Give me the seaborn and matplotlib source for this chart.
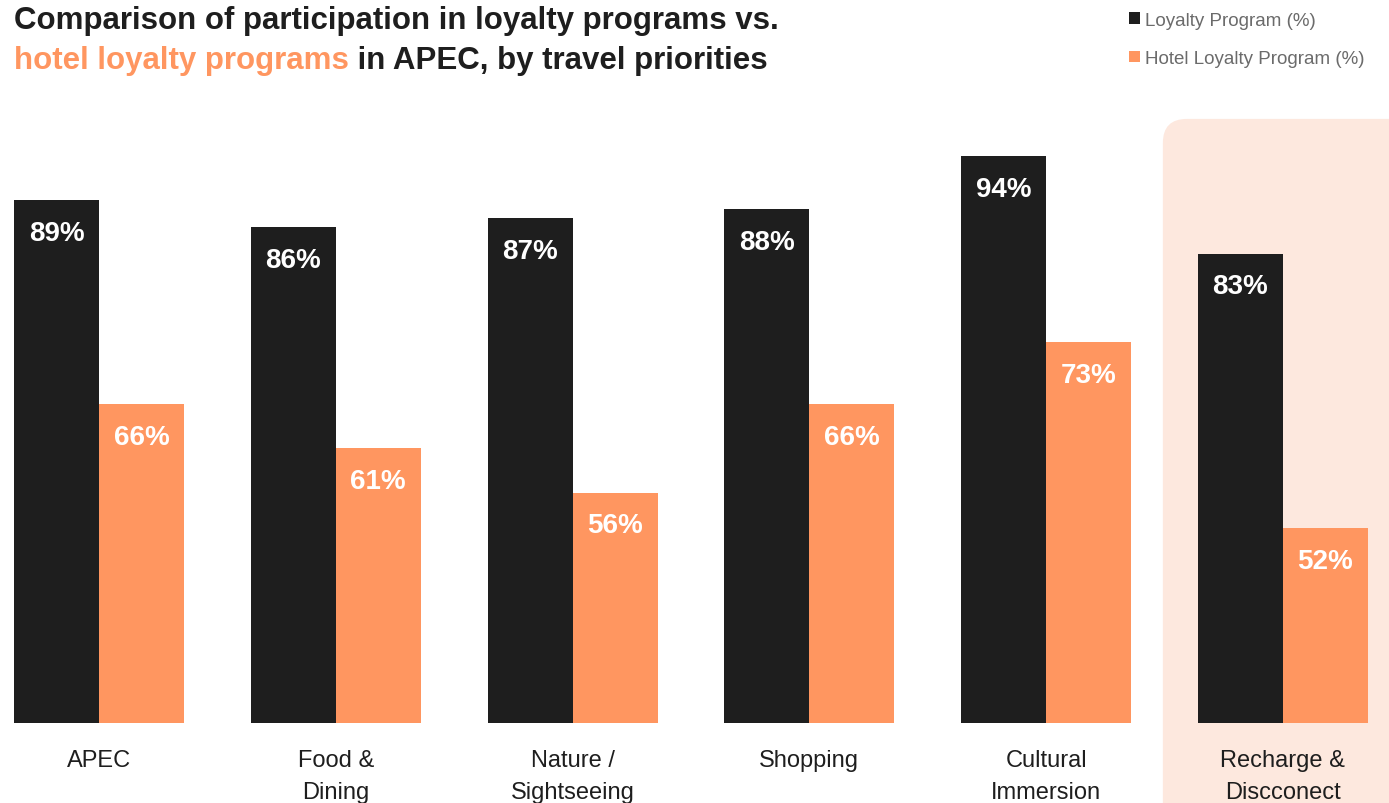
import matplotlib
matplotlib.use("Agg")
import matplotlib.pyplot as plt
from matplotlib.patches import FancyBboxPatch, Patch
from matplotlib.transforms import IdentityTransform
import seaborn as sns
import pandas as pd

# ---- data ----
categories = ["APEC", "Food &\nDining", "Nature /\nSightseeing", "Shopping",
              "Cultural\nImmersion", "Recharge &\nDiscconect"]
loyalty_program = [89, 86, 87, 88, 94, 83]
hotel_loyalty_program = [66, 61, 56, 66, 73, 52]
series_names = ["Loyalty Program (%)", "Hotel Loyalty Program (%)"]
highlight_category = "Recharge &\nDiscconect"

# ---- style ----
BLACK = "#1e1e1e"
ORANGE = "#ff9660"
HIGHLIGHT = "#fde8de"
GREY = "#6b6b6b"
SANS = ["Liberation Sans", "DejaVu Sans"]

sns.set_theme(style="white")
plt.rcParams["font.family"] = SANS

df = pd.DataFrame({
    "category": categories * 2,
    "value": loyalty_program + hotel_loyalty_program,
    "series": [series_names[0]] * len(categories) + [series_names[1]] * len(categories),
})

fig = plt.figure(figsize=(13.89, 8.04), dpi=100)
fig.patch.set_facecolor("white")
ax = fig.add_axes([0, 0.0995, 1, 0.7712])
ax.patch.set_alpha(0)

sns.barplot(data=df, x="category", y="value", hue="series", order=categories,
            hue_order=series_names, palette=[BLACK, ORANGE], width=0.718,
            saturation=1, legend=False, ax=ax, zorder=2, linewidth=0,
            edgecolor="none")

ax.set_xlim(-0.418, 5.448)
ax.set_ylim(30, 100)
ax.autoscale(False)
for s in ax.spines.values():
    s.set_visible(False)
ax.set_yticks([])
ax.set_xlabel("")
ax.set_ylabel("")
ax.tick_params(axis="x", length=0, pad=19)
ax.set_xticks(range(len(categories)))
ax.set_xticklabels(categories, fontsize=17, color=BLACK)
for lab in ax.get_xticklabels():
    lab.set_linespacing(1.55)

# value labels inside the top of each bar
for container, values in zip(ax.containers, [loyalty_program, hotel_loyalty_program]):
    for bar, v in zip(container, values):
        ax.annotate(f"{v}%", xy=(bar.get_x() + bar.get_width() / 2, v),
                    xytext=(0, -23.5), textcoords="offset points",
                    ha="center", va="center", color="white",
                    fontsize=20, fontweight="bold", zorder=3)

# rounded highlight panel behind the last group
fig.canvas.draw()
hi = categories.index(highlight_category)
x0, y0 = ax.transData.transform((hi - 0.507, 98.2))
_, ybot = ax.transData.transform((hi, 30))
panel = FancyBboxPatch((x0, ybot - 200), 600, (y0 - ybot) + 200,
                       boxstyle="round,pad=0,rounding_size=24",
                       transform=IdentityTransform(), facecolor=HIGHLIGHT,
                       edgecolor="none", zorder=0, clip_on=False)
ax.add_patch(panel)

# title with highlighted phrase
fig.text(14 / 1389, 1 - 21 / 804, "Comparison of participation in loyalty programs vs.",
         fontsize=22.5, fontweight="bold", color=BLACK, va="center", ha="left")
t2 = fig.text(14 / 1389, 1 - 61 / 804, "hotel loyalty programs",
              fontsize=22.5, fontweight="bold", color=ORANGE, va="center", ha="left")
ax.annotate(" in APEC, by travel priorities", xy=(1, 0), xycoords=t2,
            va="bottom", ha="left", fontsize=22.5, fontweight="bold", color=BLACK,
            annotation_clip=False)

# legend
handles = [Patch(facecolor=BLACK, edgecolor="none"), Patch(facecolor=ORANGE, edgecolor="none")]
fig.legend(handles, series_names, loc="upper left",
           bbox_to_anchor=(1121 / 1389, 1 - 5 / 804), frameon=False,
           handlelength=0.6, handleheight=0.6, handletextpad=0.3,
           labelspacing=1.15, borderaxespad=0,
           prop={"size": 13.5}, labelcolor=GREY)

fig.savefig("out.png", dpi=100)
